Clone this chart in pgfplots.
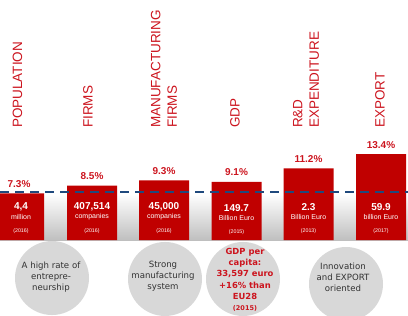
\documentclass[border=0pt]{standalone}
\usepackage{pgfplots}
\pgfplotsset{compat=1.18}
\usepackage{fontspec}
\setmainfont{Liberation Sans}
\newfontfamily\dv{DejaVu Sans}
\definecolor{barred}{RGB}{192,0,0}
\definecolor{labred}{RGB}{204,20,30}
\definecolor{navy}{RGB}{31,73,125}
\definecolor{circ}{RGB}{216,216,216}
\definecolor{ctext}{RGB}{50,50,50}
\begin{document}
\begin{tikzpicture}
\begin{axis}[
  scale only axis, width=408bp, height=315bp,
  xmin=0, xmax=408, ymin=-11.71875, ymax=37.5,
  axis lines=none, clip=false,
]
% background gradient band
\fill[top color=white, bottom color=gray!50] (axis cs:0,0) rectangle (axis cs:408,7.2);
% circles
\fill[circ] (axis cs:52,-5.94) circle[radius=37bp];
\fill[circ] (axis cs:165,-6.09) circle[radius=37bp];
\fill[circ] (axis cs:243,-6.09) circle[radius=37bp];
\fill[circ] (axis cs:346,-6.875) circle[radius=37bp];
% bars
\addplot[ybar, bar width=50, fill=barred, draw=none,
  nodes near coords={\pgfmathprintnumber[fixed,precision=1,fixed zerofill,assume math mode=true]{\pgfplotspointmeta}\%},
  every node near coord/.append style={font=\bfseries\fontsize{10bp}{12bp}\selectfont, text=labred, inner sep=0pt, anchor=south, yshift=5.5bp}]
  coordinates {(19,7.3) (92,8.5) (164,9.3) (236.5,9.1) (308.5,11.2) (381,13.4)};
% average dashed line
\addplot[navy, line width=2bp, dash pattern=on 9bp off 6bp] coordinates {(0,7.5) (408,7.5)};
% category labels
\tikzset{cat/.style={rotate=90, anchor=west, align=left, inner sep=0pt, text=labred, font=\fontsize{13.5bp}{16.5bp}\selectfont}}
\node[cat] at (axis cs:17.5,17.5) {POPULATION};
\node[cat] at (axis cs:88,17.5) {FIRMS};
\node[cat] at (axis cs:164,17.5) {MANUFACTURING\\FIRMS};
\node[cat] at (axis cs:235,17.5) {GDP};
\node[cat] at (axis cs:306,17.5) {R\&D\\EXPENDITURE};
\node[cat] at (axis cs:380,17.5) {EXPORT};
% in-bar texts
\tikzset{val/.style={text=white, inner sep=0pt, font=\bfseries\fontsize{10bp}{12bp}\selectfont},
  unit/.style={text=white, inner sep=0pt, font=\fontsize{7bp}{8bp}\selectfont},
  yr/.style={text=white, inner sep=0pt, font=\fontsize{5.3bp}{6bp}\selectfont}}
\node[val] at (axis cs:21,5.16) {4,4};
\node[unit] at (axis cs:21,3.6) {million};
\node[yr] at (axis cs:21,1.4) {(2016)};
\node[val] at (axis cs:92,5.16) {407,514};
\node[unit] at (axis cs:92,3.6) {companies};
\node[yr] at (axis cs:92,1.4) {(2016)};
\node[val] at (axis cs:164,5.16) {45,000};
\node[unit] at (axis cs:164,3.6) {companies};
\node[yr] at (axis cs:164,1.4) {(2016)};
\node[val] at (axis cs:236.5,5.0) {149.7};
\node[unit] at (axis cs:236.5,3.45) {Billion Euro};
\node[yr] at (axis cs:236.5,1.25) {(2015)};
\node[val] at (axis cs:308.5,5.16) {2.3};
\node[unit] at (axis cs:308.5,3.6) {Billion Euro};
\node[yr] at (axis cs:308.5,1.4) {(2013)};
\node[val] at (axis cs:381,5.16) {59.9};
\node[unit] at (axis cs:381,3.6) {billion Euro};
\node[yr] at (axis cs:381,1.4) {(2017)};
% circle texts
\tikzset{ct/.style={align=center, inner sep=0pt, text=ctext, font=\dv\fontsize{8.6bp}{11bp}\selectfont}}
\node[ct] at (axis cs:51,-5.8) {A high rate of\\entrepre-\\neurship};
\node[ct] at (axis cs:163,-5.7) {Strong\\manufacturing\\system};
\node[ct] at (axis cs:343,-5.9) {Innovation\\and EXPORT\\oriented};
\node[align=center, inner sep=0pt, text=labred, font=\dv\bfseries\fontsize{8.4bp}{11.3bp}\selectfont] at (axis cs:245,-6.2)
  {GDP per\\capita:\\33,597 euro\\+16\% than\\EU28\\{\fontsize{6.5bp}{8bp}\selectfont(2015)}};
\end{axis}
\pgfresetboundingbox
\useasboundingbox (current axis.south west) rectangle (current axis.north east);
\end{tikzpicture}
\end{document}
